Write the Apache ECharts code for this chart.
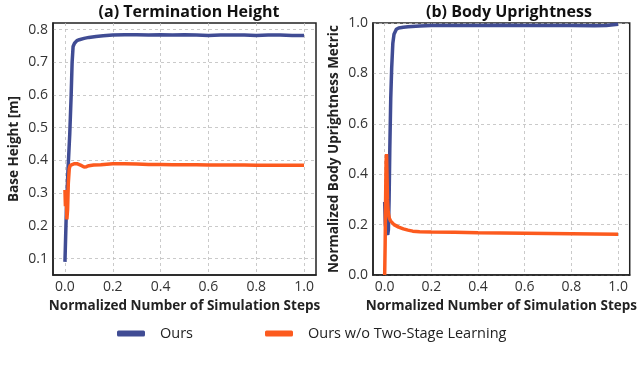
<!DOCTYPE html>
<html>
<head>
<meta charset="utf-8">
<style>
  html, body { margin: 0; padding: 0; background: #fff; }
  #main { width: 640px; height: 370px; }
</style>
<script src="https://cdn.jsdelivr.net/npm/echarts@6/dist/echarts.min.js"></script>
</head>
<body>
<div id="main"></div>
<script>
// ---- data ----
var xTicks = [0, 0.2, 0.4, 0.6, 0.8, 1.0];
var heightTicks = [0.1, 0.2, 0.3, 0.4, 0.5, 0.6, 0.7, 0.8];

// (a) termination height, ours
var oursHeightX = [0, 0.006, 0.012, 0.02, 0.026, 0.03, 0.034, 0.04, 0.05, 0.06, 0.08, 0.1, 0.13, 0.16, 0.2, 0.25, 0.3, 0.35, 0.4, 0.45, 0.5, 0.55, 0.6, 0.65, 0.7, 0.75, 0.8, 0.85, 0.9, 0.95, 1.0];
var oursHeightY = [0.09, 0.25, 0.36, 0.48, 0.6, 0.7, 0.748, 0.758, 0.766, 0.769, 0.773, 0.776, 0.779, 0.781, 0.783, 0.784, 0.784, 0.783, 0.784, 0.783, 0.784, 0.783, 0.782, 0.783, 0.783, 0.783, 0.782, 0.783, 0.783, 0.782, 0.782];

// (a) termination height, ours w/o two-stage
var baseHeightX = [0, 0.002, 0.005, 0.008, 0.011, 0.014, 0.018, 0.022, 0.03, 0.04, 0.05, 0.06, 0.07, 0.08, 0.09, 0.1, 0.12, 0.15, 0.2, 0.25, 0.3, 0.35, 0.4, 0.45, 0.5, 0.55, 0.6, 0.65, 0.7, 0.75, 0.8, 0.85, 0.9, 0.95, 1.0];
var baseHeightY = [0.31, 0.26, 0.3, 0.22, 0.25, 0.33, 0.375, 0.385, 0.388, 0.39, 0.39, 0.387, 0.384, 0.38, 0.381, 0.384, 0.386, 0.387, 0.39, 0.39, 0.389, 0.388, 0.388, 0.387, 0.387, 0.387, 0.386, 0.386, 0.386, 0.386, 0.385, 0.385, 0.385, 0.385, 0.385];

// (b) body uprightness, ours
var oursUprightX = [0, 0.003, 0.008, 0.013, 0.016, 0.019, 0.022, 0.026, 0.03, 0.035, 0.04, 0.05, 0.06, 0.08, 0.1, 0.15, 0.2, 0.3, 0.4, 0.5, 0.6, 0.7, 0.8, 0.9, 0.95, 1.0];
var oursUprightY = [0.29, 0.2, 0.17, 0.16, 0.18, 0.3, 0.5, 0.7, 0.82, 0.92, 0.955, 0.975, 0.98, 0.983, 0.985, 0.988, 0.99, 0.99, 0.99, 0.991, 0.99, 0.99, 0.99, 0.989, 0.99, 0.995];

// (b) body uprightness, ours w/o two-stage
var baseUprightX = [0, 0.002, 0.004, 0.006, 0.008, 0.01, 0.012, 0.015, 0.02, 0.025, 0.03, 0.04, 0.05, 0.06, 0.08, 0.1, 0.12, 0.15, 0.2, 0.3, 0.4, 0.5, 0.6, 0.7, 0.8, 0.9, 1.0];
var baseUprightY = [0.0, 0.12, 0.3, 0.45, 0.48, 0.4, 0.3, 0.25, 0.225, 0.215, 0.21, 0.2, 0.195, 0.19, 0.183, 0.178, 0.174, 0.172, 0.171, 0.17, 0.168, 0.167, 0.166, 0.165, 0.164, 0.163, 0.162];

var seriesNames = ['Ours', 'Ours w/o Two-Stage Learning'];
var colors = ['#404c94', '#fc5a1e'];

function zip(xs, ys) {
    var out = [];
    for (var i = 0; i < xs.length; i++) out.push([xs[i], ys[i]]);
    return out;
}

var font = 'Open Sans';
var splitLine = { show: true, lineStyle: { type: [3, 3], color: '#bdbdbd', width: 0.8 } };
var axisLine = { show: true, onZero: false, lineStyle: { color: '#222', width: 1.5 } };
var tickFont = { fontFamily: font, fontSize: 14, color: '#333', margin: 5,
    formatter: function (v) { return v.toFixed(1); } };
var nameFont = { fontFamily: font, fontWeight: 'bold', fontSize: 13.5, color: '#222' };

function xAxisFor(idx) {
    return {
        type: 'value', gridIndex: idx, min: -0.05, max: 1.05,
        name: 'Normalized Number of Simulation Steps',
        nameLocation: 'middle', nameGap: 22,
        nameTextStyle: nameFont,
        axisLine: axisLine,
        axisTick: { show: false, customValues: xTicks },
        axisLabel: Object.assign({ customValues: xTicks }, tickFont),
        splitLine: splitLine
    };
}

var chart = echarts.init(document.getElementById('main'));

var option = {
    animation: false,
    color: colors,
    title: [
        { text: '(a) Termination Height', left: 184, top: -1, textAlign: 'center',
          textStyle: { fontFamily: font, fontWeight: 'bold', fontSize: 16, color: '#111' } },
        { text: '(b) Body Uprightness', left: 504, top: -1, textAlign: 'center',
          textStyle: { fontFamily: font, fontWeight: 'bold', fontSize: 16, color: '#111' } }
    ],
    legend: {
        data: seriesNames,
        left: 112, top: 321,
        icon: 'roundRect', itemWidth: 28, itemHeight: 6, itemGap: 72,
        textStyle: { fontFamily: font, fontSize: 14.5, color: '#222', padding: [0, 0, 0, 10] }
    },
    grid: [
        { left: 53, top: 23, width: 263, height: 252, show: true, borderColor: '#222', borderWidth: 1.5 },
        { left: 373, top: 23, width: 263, height: 252, show: true, borderColor: '#222', borderWidth: 1.5 }
    ],
    xAxis: [xAxisFor(0), xAxisFor(1)],
    yAxis: [
        {
            type: 'value', gridIndex: 0, min: 0.05, max: 0.82,
            name: 'Base Height [m]', nameLocation: 'middle', nameGap: 32,
            nameTextStyle: nameFont,
            axisLine: axisLine,
            axisTick: { show: false, customValues: heightTicks },
            axisLabel: Object.assign({ customValues: heightTicks }, tickFont),
            splitLine: splitLine
        },
        {
            type: 'value', gridIndex: 1, min: 0, max: 1, interval: 0.2,
            name: 'Normalized Body Uprightness Metric', nameLocation: 'middle', nameGap: 32,
            nameTextStyle: nameFont,
            axisLine: axisLine,
            axisTick: { show: false },
            axisLabel: tickFont,
            splitLine: splitLine
        }
    ],
    series: [
        { name: seriesNames[0], type: 'line', xAxisIndex: 0, yAxisIndex: 0, showSymbol: false, symbol: 'none',
          lineStyle: { width: 3.5, color: colors[0] }, data: zip(oursHeightX, oursHeightY) },
        { name: seriesNames[0], type: 'line', xAxisIndex: 1, yAxisIndex: 1, showSymbol: false, symbol: 'none',
          lineStyle: { width: 3.5, color: colors[0] }, data: zip(oursUprightX, oursUprightY) },
        { name: seriesNames[1], type: 'line', xAxisIndex: 0, yAxisIndex: 0, showSymbol: false, symbol: 'none',
          lineStyle: { width: 3.5, color: colors[1] }, data: zip(baseHeightX, baseHeightY) },
        { name: seriesNames[1], type: 'line', xAxisIndex: 1, yAxisIndex: 1, showSymbol: false, symbol: 'none',
          lineStyle: { width: 3.5, color: colors[1] }, data: zip(baseUprightX, baseUprightY) }
    ]
};

chart.setOption(option);
</script>
</body>
</html>
